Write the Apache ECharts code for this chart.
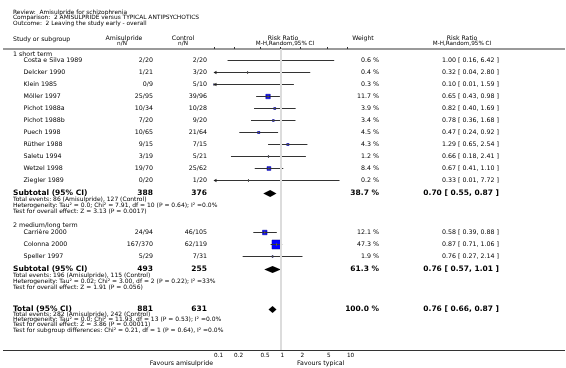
<!DOCTYPE html>
<html><head><meta charset="utf-8">
<script src="https://cdn.jsdelivr.net/npm/echarts@6/dist/echarts.min.js"></script>
<style>html,body{margin:0;padding:0;background:#fff}#c{width:566px;height:368px}</style>
</head><body><div id="c"></div>
<script>
// ---------- data ----------
const titleLines = [
  'Review:  Amisulpride for schizophrenia',
  'Comparison:  2 AMISULPRIDE versus TYPICAL ANTIPSYCHOTICS',
  'Outcome:  2 Leaving the study early - overall'
];
const groupNames = ['1 short term', '2 medium/long term'];
const studies = ['Costa e Silva 1989','Delcker 1990','Klein 1985','Möller 1997','Pichot 1988a','Pichot 1988b','Puech 1998','Rüther 1988','Saletu 1994','Wetzel 1998','Ziegler 1989',
                 'Carrière 2000','Colonna 2000','Speller 1997'];
const studyGroup = [0,0,0,0,0,0,0,0,0,0,0, 1,1,1];
const amiEvents = [2,1,0,25,10,7,10,9,3,19,0, 24,167,5];
const amiTotal  = [20,21,9,95,34,20,65,15,19,70,20, 94,370,29];
const ctlEvents = [2,3,5,39,10,9,21,7,5,25,1, 46,62,7];
const ctlTotal  = [20,20,10,96,28,20,64,15,21,62,20, 105,119,31];
const weights   = [0.6,0.4,0.3,11.7,3.9,3.4,4.5,4.3,1.2,8.4,0.2, 12.1,47.3,1.9];
const rr        = [1.00,0.32,0.10,0.65,0.82,0.78,0.47,1.29,0.66,0.67,0.33, 0.58,0.87,0.76];
const rrLow     = [0.16,0.04,0.01,0.43,0.40,0.36,0.24,0.65,0.18,0.41,0.01, 0.39,0.71,0.27];
const rrHigh    = [6.42,2.80,1.59,0.98,1.69,1.68,0.92,2.54,2.41,1.10,7.72, 0.88,1.06,2.14];

const subAmiTotal = [388, 493];
const subCtlTotal = [376, 255];
const subWeight   = [38.7, 61.3];
const subRR   = [0.70, 0.76];
const subLow  = [0.55, 0.57];
const subHigh = [0.87, 1.01];
const subNotes = [
  ['Total events: 86 (Amisulpride), 127 (Control)',
   'Heterogeneity: Tau² = 0.0; Chi² = 7.91, df = 10 (P = 0.64); I² =0.0%',
   'Test for overall effect: Z = 3.13 (P = 0.0017)'],
  ['Total events: 196 (Amisulpride), 115 (Control)',
   'Heterogeneity: Tau² = 0.02; Chi² = 3.00, df = 2 (P = 0.22); I² =33%',
   'Test for overall effect: Z = 1.91 (P = 0.056)']
];
const totAmi = 881, totCtl = 631, totWeight = 100.0, totRR = 0.76, totLow = 0.66, totHigh = 0.87;
const totNotes = [
  'Total events: 282 (Amisulpride), 242 (Control)',
  'Heterogeneity: Tau² = 0.0; Chi² = 11.93, df = 13 (P = 0.53); I² =0.0%',
  'Test for overall effect: Z = 3.86 (P = 0.00011)',
  'Test for subgroup differences: Chi² = 0.21, df = 1 (P = 0.64), I² =0.0%'
];
const tickValues = [0.1, 0.2, 0.5, 1, 2, 5, 10];
const tickLabels = ['0.1','0.2','0.5','1','2','5','10'];
const favourLeft = 'Favours amisulpride', favourRight = 'Favours typical';

// ---------- layout ----------
const FONT = 'DejaVu Sans';
const XMIN = 0.1, XMAX = 10;
const COL = {group: 13, study: 23.5, ami: 153, ctl: 207, weight: 379, rr: 499};
const SZ = {title: 5.9, head: 6.2, text: 6.3, note: 6.0, bold: 7.5, tick: 5.7};

const rows = [];
let cy = 0;
function add(step, obj) { cy += step; obj.y = cy; rows.push(obj); }
const fmt2 = v => v.toFixed(2);
const ciText = (r, l, h) => fmt2(r) + ' [ ' + fmt2(l) + ', ' + fmt2(h) + ' ]';

for (let g = 0; g < 2; g++) {
  add(g === 0 ? 5 : 14, {kind: 'group', label: groupNames[g]});
  let first = true;
  studies.forEach((s, i) => {
    if (studyGroup[i] !== g) return;
    add(first ? 6.2 : 12, {kind: 'study', i});
    first = false;
  });
  add(12.6, {kind: 'sub', g});
  subNotes[g].forEach((n, k) => add(k === 0 ? 6.6 : 6.2, {kind: 'note', label: n}));
}
add(21, {kind: 'total'});
totNotes.forEach((n, k) => add(k === 0 ? 5.8 : 5.2, {kind: 'note', label: n}));

const marks = [];
rows.forEach(r => {
  if (r.kind === 'study') marks.push({type: 'sq', y: r.y, rr: rr[r.i], lo: rrLow[r.i], hi: rrHigh[r.i], w: weights[r.i]});
  if (r.kind === 'sub') marks.push({type: 'dia', y: r.y, rr: subRR[r.g], lo: subLow[r.g], hi: subHigh[r.g]});
  if (r.kind === 'total') marks.push({type: 'dia', y: r.y, rr: totRR, lo: totLow, hi: totHigh});
});

const GRID_TOP = 49, GRID_BOTTOM = 18;
const chart = echarts.init(document.getElementById('c'));

function txt(x, y, text, align, size, bold) {
  return {type: 'text', silent: true, style: {x, y, text, align: align || 'left', verticalAlign: 'middle',
    fontSize: size, fontFamily: FONT, fontWeight: bold ? 'bold' : 'normal', fill: '#000'}};
}

const graphics = [];
titleLines.forEach((t, k) => graphics.push(txt(13, 12.3 + k * 5.6, t, 'left', SZ.title)));
graphics.push(txt(13, 39, 'Study or subgroup', 'left', SZ.head));
graphics.push(txt(124, 38.5, 'Amisulpride', 'center', SZ.head));
graphics.push(txt(122, 44, 'n/N', 'center', SZ.head - 0.5));
graphics.push(txt(183, 38.5, 'Control', 'center', SZ.head));
graphics.push(txt(183, 44, 'n/N', 'center', SZ.head - 0.5));
graphics.push(txt(283, 38.5, 'Risk Ratio', 'center', SZ.head));
graphics.push(txt(285, 44, 'M-H,Random,95% CI', 'center', SZ.head - 0.5));
graphics.push(txt(363, 38.5, 'Weight', 'center', SZ.head));
graphics.push(txt(462, 38.5, 'Risk Ratio', 'center', SZ.head));
graphics.push(txt(462, 44, 'M-H,Random,95% CI', 'center', SZ.head - 0.5));
graphics.push({type: 'line', silent: true, shape: {x1: 3, y1: 49, x2: 565, y2: 49}, style: {stroke: '#9a9a9a', lineWidth: 2}});
graphics.push({type: 'line', silent: true, shape: {x1: 3, y1: 350.5, x2: 565, y2: 350.5}, style: {stroke: '#333', lineWidth: 1}});
graphics.push(txt(213, 363.5, favourLeft, 'right', SZ.text));
graphics.push(txt(297, 363.5, favourRight, 'left', SZ.text));

chart.setOption({
  animation: false,
  grid: {left: 214, right: 566 - 347, top: GRID_TOP, bottom: GRID_BOTTOM},
  xAxis: {
    type: 'log', logBase: 10, min: XMIN, max: XMAX,
    axisLine: {show: false},
    splitLine: {show: false},
    minorTick: {show: false},
    axisTick: {show: true, inside: true, length: 2, customValues: tickValues, lineStyle: {color: '#333'}},
    axisLabel: {customValues: tickValues, fontSize: SZ.tick, fontFamily: FONT, color: '#000', margin: 3, align: 'left',
      formatter: v => { let best = 0; tickValues.forEach((t, k) => { if (Math.abs(Math.log10(t) - Math.log10(v)) < Math.abs(Math.log10(tickValues[best]) - Math.log10(v))) best = k; }); return tickLabels[best]; }}
  },
  yAxis: {type: 'value', inverse: true, min: 0, max: 368 - GRID_TOP - GRID_BOTTOM, show: false},
  graphic: graphics,
  series: [
    {
      type: 'custom', silent: true, clip: false,
      data: marks.map(m => [m.rr, m.y]),
      encode: {x: 0, y: 1},
      markLine: {silent: true, symbol: 'none', label: {show: false}, lineStyle: {color: '#dcdcdc', width: 2, type: 'solid'}, data: [{xAxis: 1}]},
      renderItem(params, api) {
        const m = marks[params.dataIndex];
        const yy = Math.round(api.coord([1, m.y])[1]) + 0.5;
        const xl = api.coord([Math.max(m.lo, XMIN), m.y])[0];
        const xh = api.coord([Math.min(m.hi, XMAX), m.y])[0];
        const xc = api.coord([Math.max(m.rr, XMIN), m.y])[0];
        const ch = [];
        if (m.type === 'dia') {
          ch.push({type: 'polygon', shape: {points: [[xl, yy], [xc, yy - 3.5], [xh, yy], [xc, yy + 3.5]]}, style: {fill: '#000'}});
        } else {
          const s = Math.max(1.31 * Math.sqrt(m.w), 1.2);
          ch.push({type: 'rect', shape: {x: xc - s / 2, y: yy - s / 2, width: s, height: s}, style: {fill: '#0000ff', stroke: s > 3 ? '#00009a' : null, lineWidth: 0.5}});
          ch.push({type: 'line', shape: {x1: xl, y1: yy, x2: xh, y2: yy}, style: {stroke: '#333', lineWidth: 1}});
          ch.push({type: 'line', shape: {x1: xc, y1: yy - 1.5, x2: xc, y2: yy + 1.5}, style: {stroke: '#555', lineWidth: 1}});
          if (m.lo < XMIN) ch.push({type: 'polygon', shape: {points: [[xl - 0.5, yy], [xl + 2.5, yy - 1.8], [xl + 2.5, yy + 1.8]]}, style: {fill: '#222'}});
          if (m.hi > XMAX) ch.push({type: 'polygon', shape: {points: [[xh + 0.5, yy], [xh - 2.5, yy - 1.8], [xh - 2.5, yy + 1.8]]}, style: {fill: '#222'}});
        }
        return {type: 'group', children: ch};
      }
    },
    {
      type: 'custom', silent: true, clip: false,
      data: rows.map(r => [1, r.y]),
      encode: {x: 0, y: 1},
      renderItem(params, api) {
        const r = rows[params.dataIndex];
        const py = api.coord([1, r.y])[1];
        const ch = [];
        if (r.kind === 'group') ch.push(txt(COL.group, py, r.label, 'left', SZ.text));
        else if (r.kind === 'note') ch.push(txt(COL.group, py, r.label, 'left', SZ.note));
        else if (r.kind === 'study') {
          const i = r.i;
          ch.push(txt(COL.study, py, studies[i], 'left', SZ.text));
          ch.push(txt(COL.ami, py, amiEvents[i] + '/' + amiTotal[i], 'right', SZ.text));
          ch.push(txt(COL.ctl, py, ctlEvents[i] + '/' + ctlTotal[i], 'right', SZ.text));
          ch.push(txt(COL.weight, py, weights[i].toFixed(1) + ' %', 'right', SZ.text));
          ch.push(txt(COL.rr, py, ciText(rr[i], rrLow[i], rrHigh[i]), 'right', SZ.text));
        } else if (r.kind === 'sub' || r.kind === 'total') {
          const isSub = r.kind === 'sub';
          const g = r.g;
          ch.push(txt(COL.group, py, isSub ? 'Subtotal (95% CI)' : 'Total (95% CI)', 'left', SZ.bold, true));
          ch.push(txt(COL.ami, py, String(isSub ? subAmiTotal[g] : totAmi), 'right', SZ.bold, true));
          ch.push(txt(COL.ctl, py, String(isSub ? subCtlTotal[g] : totCtl), 'right', SZ.bold, true));
          ch.push(txt(COL.weight, py, (isSub ? subWeight[g] : totWeight).toFixed(1) + ' %', 'right', SZ.bold, true));
          ch.push(txt(COL.rr, py, isSub ? ciText(subRR[g], subLow[g], subHigh[g]) : ciText(totRR, totLow, totHigh), 'right', SZ.bold, true));
        }
        return {type: 'group', children: ch};
      }
    }
  ]
});
</script></body></html>
